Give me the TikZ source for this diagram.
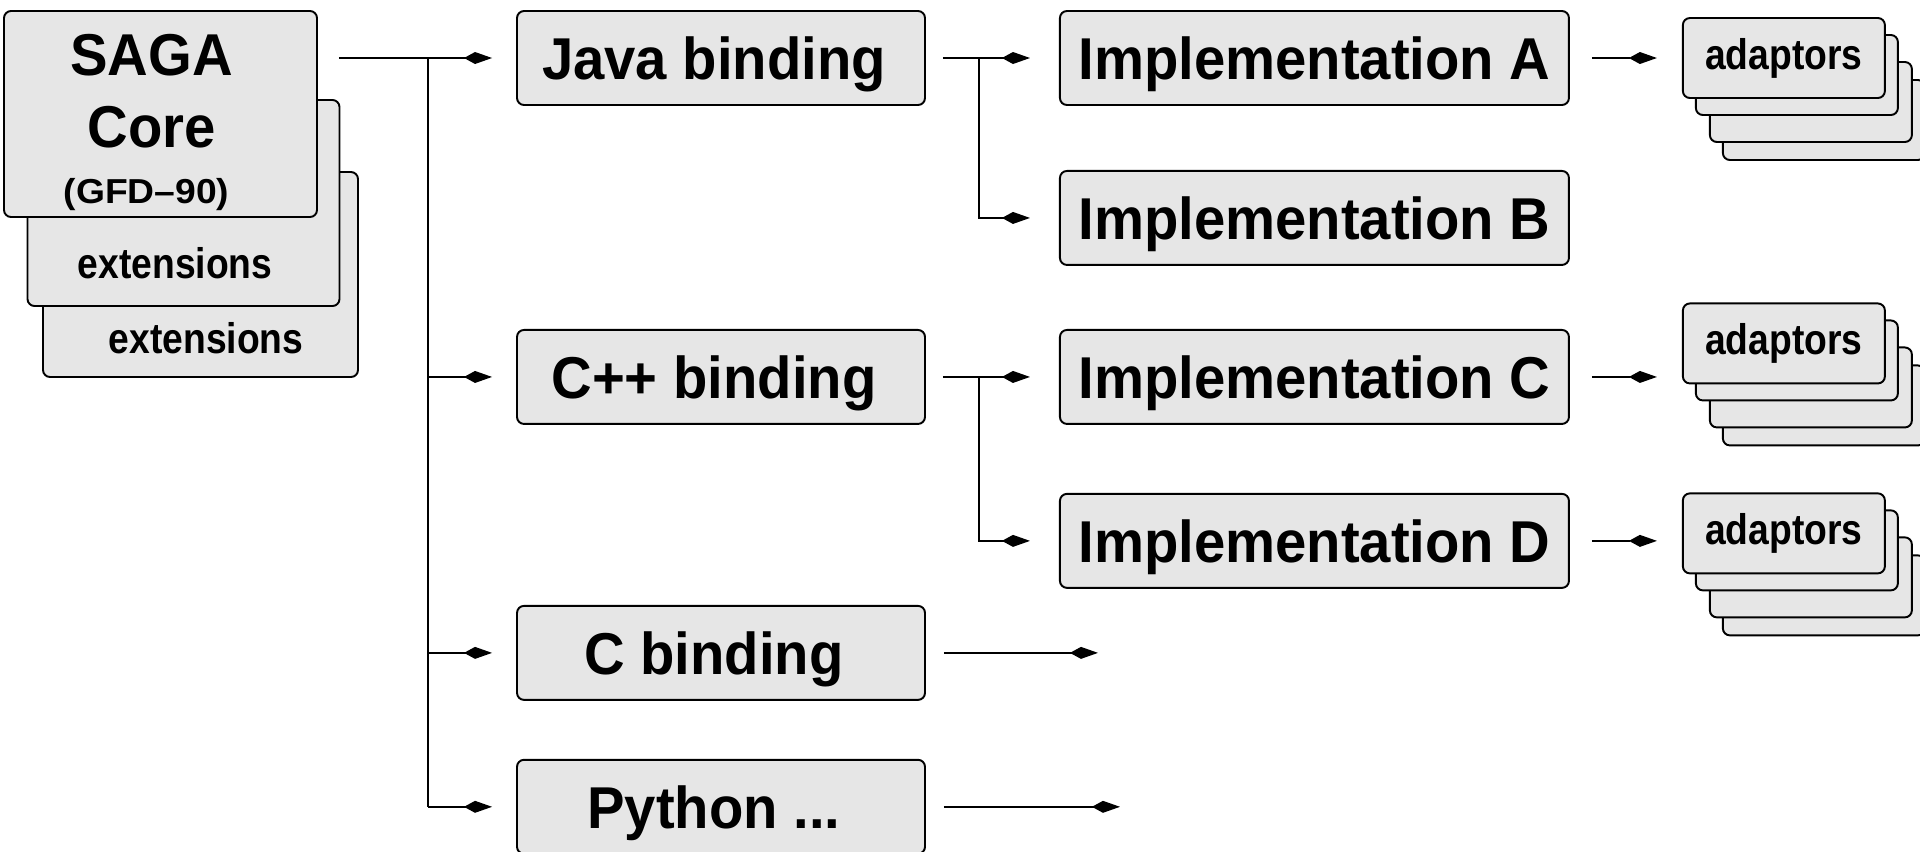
\documentclass[tikz,border=0pt]{standalone}
\usepackage{fontspec}
\setmainfont{Liberation Sans}
\usetikzlibrary{positioning}
\usetikzlibrary{arrows.meta}
\usetikzlibrary{calc,backgrounds}
\definecolor{boxgray}{HTML}{E6E6E6}
\newcommand*{\VStretch}[2]{\scalebox{1}[#1]{#2}}

\begin{document}
\begin{tikzpicture}[
    bigtext/.style={font=\fontsize{32}{38}\selectfont\bfseries, inner sep=0pt},
    smalltext/.style={font=\fontsize{21.2}{25}\selectfont\bfseries, inner sep=0pt},
    blockbox/.style={draw, fill=boxgray, line width=1.1pt, rounded corners=4pt, inner sep=0pt},
    bindbox/.style={blockbox, bigtext, text depth=0pt, minimum width=8.16cm, minimum height=1.88cm,
        execute at end node={\hspace*{0.28cm}}},
    implbox/.style={blockbox, bigtext, text depth=0pt, minimum width=10.18cm, minimum height=1.88cm},
    adabox/.style={blockbox, smalltext, minimum width=4.04cm, minimum height=1.6cm},
    wire/.style={line width=0.85pt},
    conn/.style={wire, -{Kite[length=0.56cm,width=0.24cm,inset=0.22cm]}}
]
\useasboundingbox (0,0) rectangle (38.4,-17.02);

% SAGA core
\node[blockbox, minimum width=6.26cm, minimum height=4.12cm] (core) at (3.21,-2.28) {};
\node[bigtext, anchor=base] (saga) at (3.03,-1.50) {\VStretch{1.05}{SAGA}};
\node[bigtext, anchor=base] (coreword) at (3.04,-2.94) {\VStretch{1.05}{Core}};
\node[smalltext, anchor=base] (gfd) at (2.93,-4.06) {\VStretch{0.93}{(GFD–90)}};

% extensions behind the core
\begin{scope}[on background layer]
\node[blockbox, minimum width=6.3cm, minimum height=4.1cm] (ext2) at ([shift={(0.8,-3.21)}]core.center) {};
\node[smalltext, anchor=base] (ext2txt) at ($(ext2.south)+(0.11,0.48)$) {\VStretch{1.15}{extensions}};
\node[blockbox, minimum width=6.24cm, minimum height=4.12cm] (ext1) at ([shift={(0.46,-1.78)}]core.center) {};
\node[smalltext, anchor=base] (ext1txt) at ($(ext1.south)+(-0.17,0.56)$) {\VStretch{1.15}{extensions}};
\end{scope}

% language bindings
\node[bindbox] (java) at (14.42,-1.16) {\VStretch{1.05}{Java binding}};
\node[bindbox, below=4.46cm of java] (cpp) {\VStretch{1.05}{C++ binding}};
\node[bindbox, below=3.6cm of cpp] (cbind) {\VStretch{1.05}{C binding}};
\node[bindbox, below=1.16cm of cbind] (python) {\VStretch{1.05}{Python ...}};

% implementations
\node[implbox, right=2.66cm of java] (implA) {\VStretch{1.05}{Implementation A}};
\node[implbox, below=1.28cm of implA] (implB) {\VStretch{1.05}{Implementation B}};
\node[implbox, right=2.66cm of cpp] (implC) {\VStretch{1.05}{Implementation C}};
\node[implbox, below=1.36cm of implC] (implD) {\VStretch{1.05}{Implementation D}};

% adaptors (front box, the others stacked behind)
\node[adabox, right=2.24cm of implA] (adaA) {\VStretch{1.15}{adaptors}};
\node[adabox, right=2.24cm of implC, yshift=0.67cm] (adaC) {\VStretch{1.15}{adaptors}};
\node[adabox, right=2.24cm of implD, yshift=0.15cm] (adaD) {\VStretch{1.15}{adaptors}};
\begin{scope}[on background layer]
\foreach \n in {A,C,D}{
    \node[adabox] (ada\n3) at ([shift={(0.8,-1.24)}]ada\n.center) {};
    \node[adabox] (ada\n2) at ([shift={(0.54,-0.88)}]ada\n.center) {};
    \node[adabox] (ada\n1) at ([shift={(0.26,-0.34)}]ada\n.center) {};
}
\end{scope}

% core to bindings
\coordinate (split) at (8.56,0);
\coordinate (fork) at (19.58,0);
\draw[wire, shorten <=0.42cm] (core.east |- java.west) -- (split |- java.west);
\draw[wire] (split |- java.west) -- (split |- python.west);
\foreach \b in {java,cpp,cbind,python}
    \draw[conn, shorten >=0.48cm] (split |- \b.west) -- (\b.west);

% bindings to implementations
\draw[conn, shorten <=0.34cm, shorten >=0.58cm] (java.east) -- (fork |- java.east) |- (implB.west);
\draw[conn, shorten >=0.58cm] (fork |- implA.west) -- (implA.west);
\draw[conn, shorten <=0.34cm, shorten >=0.58cm] (cpp.east) -- (fork |- cpp.east) |- (implD.west);
\draw[conn, shorten >=0.58cm] (fork |- implC.west) -- (implC.west);
\draw[conn, shorten <=0.36cm] (cbind.east) -- ++(3.44,0);
\draw[conn, shorten <=0.36cm] (python.east) -- ++(3.88,0);

% implementations to adaptors
\foreach \i in {A,C,D}
    \draw[conn, shorten <=0.44cm, shorten >=0.5cm] (impl\i.east) -- (impl\i.east -| ada\i.west);

\end{tikzpicture}
\end{document}
